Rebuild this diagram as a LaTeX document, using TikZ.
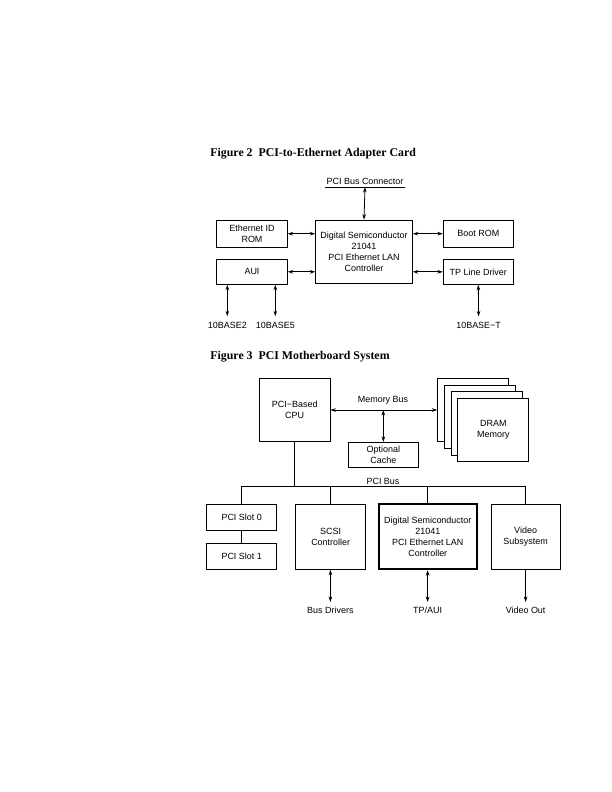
\documentclass[tikz,border=0pt]{standalone}
\usepackage{fontspec}
\setmainfont{Liberation Sans}
\newfontfamily\titlefont{Liberation Serif}
\usetikzlibrary{arrows.meta,positioning,calc}

\begin{document}
\begin{tikzpicture}[
    x=1bp, y=-1bp,
    line width=0.8bp,
    font=\fontsize{9}{10.8}\selectfont,
    box/.style={rectangle, draw, inner sep=0pt, minimum width=70bp, minimum height=26bp, align=center},
    bigbox/.style={box, minimum height=63.4bp},
    title/.style={anchor=base west, inner sep=0pt, font=\titlefont\bfseries\fontsize{11.9}{14}\selectfont},
    lbl/.style={inner sep=5bp, text height=6.5bp, text depth=0pt},
    arrow/.style={{Stealth[length=5.5bp,width=3.6bp]}-{Stealth[length=5.5bp,width=3.6bp]}},
    outarrow/.style={-{Stealth[length=5.5bp,width=3.6bp]}},
]
\useasboundingbox (0,0) rectangle (612,792);

% Figure 2
\node[title] (fig2) at (210,156.8) {Figure 2\ \ PCI-to-Ethernet Adapter Card};

\node[inner sep=1.6bp] (pciconn) at (365,181.8) {PCI Bus Connector};
\draw (pciconn.south west) -- (pciconn.south east);

\node[box, minimum width=96.6bp, minimum height=63.3bp] (ctrl) at (364,251.7)
    {Digital Semiconductor\\21041\\PCI Ethernet LAN\\Controller};
\node[box, minimum width=70.6bp, minimum height=27.3bp] (eid) at (252,233.7) {Ethernet ID\\ROM};
\node[box, minimum width=70.6bp, minimum height=25bp] (aui) at (252,271.8) {AUI};
\node[box, minimum height=27.3bp] (boot) at (478.3,233.7) {Boot ROM};
\node[box, minimum height=25bp] (tp) at (478.3,271.8) {TP Line Driver};

\draw[arrow] (pciconn.south) -- (ctrl.north);
\draw[arrow] (eid.east) -- (eid.east -| ctrl.west);
\draw[arrow] (aui.east) -- (aui.east -| ctrl.west);
\draw[arrow] (ctrl.east |- boot.west) -- (boot.west);
\draw[arrow] (ctrl.east |- tp.west) -- (tp.west);

\node[lbl] (b2) at (227.3,325) {10BASE2};
\node[lbl] (b5) at (275.3,325) {10BASE5};
\node[lbl] (bt) at (478.6,325) {10BASE−T};

\draw[arrow] (b2.north |- aui.south) -- (b2.north);
\draw[arrow] (b5.north |- aui.south) -- (b5.north);
\draw[arrow] (tp.south) -- (bt.north);

% Figure 3
\node[title] (fig3) at (210,359) {Figure 3\ \ PCI Motherboard System};

\node[bigbox, minimum width=70.7bp] (cpu) at (294.7,410) {PCI−Based\\CPU};
\node[box, minimum height=25bp] (cache) at (383.3,454.8) {Optional\\Cache};

% stacked DRAM boxes, back to front
\foreach \i in {0,...,3}
    \node[bigbox, minimum width=71bp, fill=white] (dram\i) at (473.2+6.7*\i,410+6.7*\i) {};
\node[align=center] (dramtxt) at (dram3) {DRAM\\Memory};

\draw[arrow] (cpu.east) -- (cpu.east -| dram0.west);
\node (membus) at (383,400) {Memory Bus};
\coordinate (cachetap) at (cache.north |- cpu.east);
\draw[arrow] (cachetap) -- (cache.north);

\node[box] (slot0) at (241.7,517) {PCI Slot 0};
\node[box] (slot1) at (241.7,556.3) {PCI Slot 1};
\node[box, minimum height=65.3bp] (scsi) at (330.7,536.7) {SCSI\\Controller};
\node[box, minimum width=97.7bp, minimum height=65.3bp, line width=1.8bp] (ctrlb) at (427.8,536.7)
    {Digital Semiconductor\\21041\\PCI Ethernet LAN\\Controller};
\node[box, minimum width=69.3bp, minimum height=65.3bp] (video) at (525.6,536.7) {Video\\Subsystem};

% PCI bus
\coordinate (busL) at (slot0.north |- 0,486.7);
\node (pcibus) at (383,481) {PCI Bus};
\draw (slot0.north) -- (busL) -- (busL -| video.north) -- (video.north);
\draw (cpu.south) -- (cpu.south |- busL);
\draw (scsi.north) -- (scsi.north |- busL);
\draw (ctrlb.north) -- (ctrlb.north |- busL);
\draw (slot0.south) -- (slot1.north);

\node[lbl] (busdrv) at (330.4,610.7) {Bus Drivers};
\node[lbl] (tpaui) at (427.6,610.7) {TP/AUI};
\node[lbl] (vout) at (525.6,610.7) {Video Out};

\draw[arrow] (busdrv.north |- scsi.south) -- (busdrv.north);
\draw[arrow] (tpaui.north |- ctrlb.south) -- (tpaui.north);
\draw[outarrow] (video.south) -- (vout.north);

\end{tikzpicture}
\end{document}
